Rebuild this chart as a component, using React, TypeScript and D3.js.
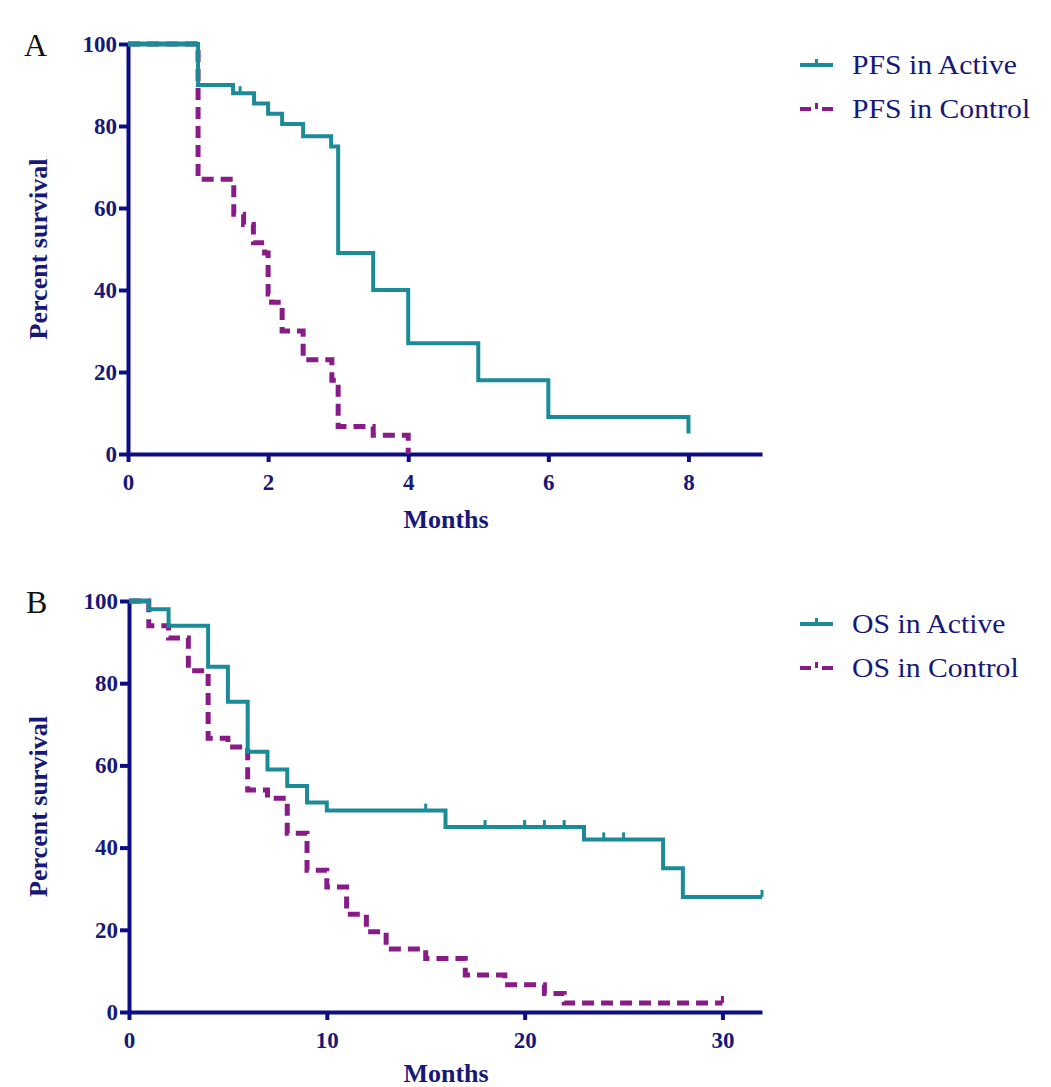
import React, { useEffect, useRef } from 'react';
import * as d3 from 'd3';

// Panel A: progression-free survival
const pfsActiveMonths = [0, 1, 1.5, 1.8, 2, 2.2, 2.5, 2.9, 3, 3.5, 4, 5, 6, 8];
const pfsActiveSurv = [100, 90, 88, 85.5, 83, 80.5, 77.5, 75, 49, 40, 27, 18, 9, 5];
const pfsActiveCensor = [1.6];
const pfsControlMonths = [0, 1, 1.51, 1.65, 1.79, 1.95, 2, 2.05, 2.2, 2.5, 2.91, 3, 3.5, 4];
const pfsControlSurv = [100, 67, 58.5, 56, 51.5, 49, 39, 37, 30, 23, 18, 6.7, 4.6, 0];
const pfsControlCensor: number[] = [];

// Panel B: overall survival
const osActiveMonths = [0, 1, 2, 4, 5, 6, 7, 8, 9, 10, 16, 23, 27, 28, 32];
const osActiveSurv = [100, 98, 94, 84, 75.5, 63.3, 59, 55, 51, 49, 45, 42, 35, 28, 28];
const osActiveCensor = [15, 18, 20, 21, 22, 24, 25, 32];
const osControlMonths = [0, 1, 2, 3, 4, 5, 6, 7, 8, 9, 10, 11, 12, 13, 15, 17, 19, 21, 22, 30];
const osControlSurv = [100, 94, 91, 83, 66.6, 64.5, 54, 52, 43.5, 34.5, 30.4, 23.8, 19.5, 15.3, 13, 9, 6.6, 4.5, 2.2, 2.2];
const osControlCensor = [30];

const yTicks = [0, 20, 40, 60, 80, 100];
const pfsTicks = [0, 2, 4, 6, 8];
const osTicks = [0, 10, 20, 30];

const NAVY = '#0d0d86';
const TEXT = '#181878';
const TEAL = '#1c8b98';
const PURPLE = '#891b88';
const FONT = '"Liberation Serif", "Times New Roman", serif';

const stepAt = (months, surv, t) => {
  let v = surv[0];
  months.forEach((m, i) => { if (m <= t) v = surv[i]; });
  return v;
};

function drawPanel(svg, p) {
  const x = d3.scaleLinear().domain([0, p.xMax]).range([p.left, p.right]);
  const y = d3.scaleLinear().domain([0, 100]).range([p.bottom, p.top]);
  const g = svg.append('g');

  // axes
  const ya = g.append('g').attr('transform', `translate(${p.left},0)`)
    .call(d3.axisLeft(y).tickValues(yTicks).tickSize(9).tickSizeOuter(0).tickPadding(2));
  const xa = g.append('g').attr('transform', `translate(0,${p.bottom})`)
    .call(d3.axisBottom(x).tickValues(p.xTicks).tickSize(8).tickSizeOuter(0).tickPadding(12));
  [ya, xa].forEach(a => {
    a.select('.domain').attr('stroke', NAVY).attr('stroke-width', 4);
    a.selectAll('.tick line').attr('stroke', NAVY).attr('stroke-width', 4);
    a.selectAll('.tick text').attr('fill', TEXT).attr('font-family', FONT)
      .attr('font-weight', 'bold').attr('font-size', 23);
  });

  const line = d3.line().x(d => x(d[0])).y(d => y(d[1])).curve(d3.curveStepAfter);

  const series = [
    { months: p.ctrlMonths, surv: p.ctrlSurv, censor: p.ctrlCensor, color: PURPLE, dash: '12,7', w: 5 },
    { months: p.actMonths, surv: p.actSurv, censor: p.actCensor, color: TEAL, dash: null, w: 4 },
  ];
  series.forEach(s => {
    const pts = s.months.map((m, i) => [m, s.surv[i]]);
    g.append('path').datum(pts).attr('d', line).attr('fill', 'none')
      .attr('stroke', s.color).attr('stroke-width', s.w)
      .attr('stroke-dasharray', s.dash).attr('stroke-linejoin', 'miter');
    g.selectAll(null).data(s.censor).join('line')
      .attr('x1', d => x(d)).attr('x2', d => x(d))
      .attr('y1', d => y(stepAt(s.months, s.surv, d)))
      .attr('y2', d => y(stepAt(s.months, s.surv, d)) - 7)
      .attr('stroke', s.color).attr('stroke-width', 3);
  });
  // the active curve covers the shared 100% plateau
  const firstDrop = p.actMonths[1];
  g.append('line').attr('x1', x(0)).attr('x2', x(firstDrop)).attr('y1', y(100)).attr('y2', y(100))
    .attr('stroke', TEAL).attr('stroke-width', 5);

  // panel letter
  g.append('text').attr('x', p.letterX).attr('y', p.top + 12).text(p.letter)
    .attr('font-family', FONT).attr('font-size', 32).attr('fill', '#111');

  // axis titles
  g.append('text').attr('transform', `translate(47,${(p.top + p.bottom) / 2}) rotate(-90)`)
    .attr('text-anchor', 'middle').text('Percent survival')
    .attr('font-family', FONT).attr('font-weight', 'bold').attr('font-size', 26).attr('fill', TEXT);
  g.append('text').attr('x', 446).attr('y', p.monthsY).attr('text-anchor', 'middle').text('Months')
    .attr('font-family', FONT).attr('font-weight', 'bold').attr('font-size', 26).attr('fill', TEXT);

  // legend
  p.legend.forEach((lab, i) => {
    const ly = p.legendY + i * 44;
    const c = i === 0 ? TEAL : PURPLE;
    g.append('line').attr('x1', 800).attr('x2', 833).attr('y1', ly).attr('y2', ly)
      .attr('stroke', c).attr('stroke-width', 4).attr('stroke-dasharray', i === 0 ? null : '11,11');
    g.append('line').attr('x1', 816.5).attr('x2', 816.5).attr('y1', ly).attr('y2', ly - 6)
      .attr('stroke', c).attr('stroke-width', 3);
    g.append('text').attr('transform', `translate(852,${ly + 9}) scale(1.1,1)`).text(lab)
      .attr('font-family', FONT).attr('font-size', 27).attr('fill', TEXT);
  });
}

export default function App() {
  const ref = useRef(null);
  useEffect(() => {
    document.body.style.margin = '0';
    const svg = d3.select(ref.current);
    svg.selectAll('*').remove();
    drawPanel(svg, {
      letter: 'A', letterX: 24, left: 128, right: 762, top: 44, bottom: 454, xMax: 9.05,
      xTicks: pfsTicks, actMonths: pfsActiveMonths, actSurv: pfsActiveSurv, actCensor: pfsActiveCensor,
      ctrlMonths: pfsControlMonths, ctrlSurv: pfsControlSurv, ctrlCensor: pfsControlCensor,
      legend: ['PFS in Active', 'PFS in Control'], legendY: 65, monthsY: 528,
    });
    drawPanel(svg, {
      letter: 'B', letterX: 26, left: 129, right: 762, top: 601, bottom: 1012, xMax: 32,
      xTicks: osTicks, actMonths: osActiveMonths, actSurv: osActiveSurv, actCensor: osActiveCensor,
      ctrlMonths: osControlMonths, ctrlSurv: osControlSurv, ctrlCensor: osControlCensor,
      legend: ['OS in Active', 'OS in Control'], legendY: 624, monthsY: 1082,
    });
  }, []);
  return <svg ref={ref} width={1051} height={1087} style={{ display: 'block', background: '#fff' }} />;
}
